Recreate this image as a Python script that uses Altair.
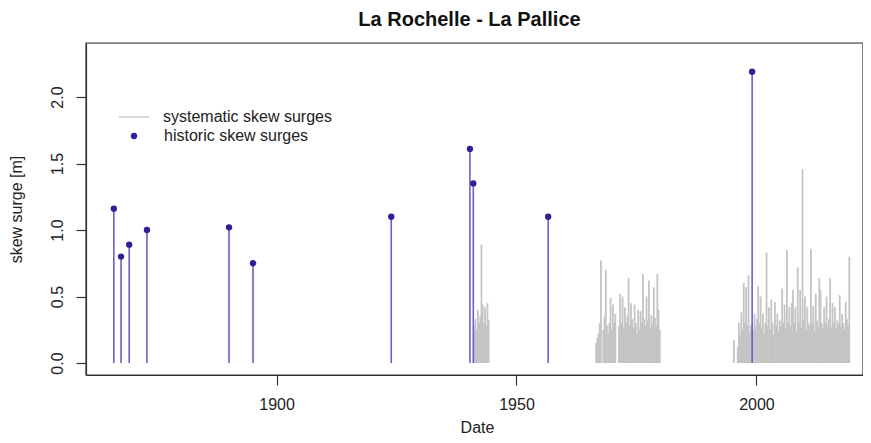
import altair as alt
import pandas as pd

FONT = "Liberation Sans"

# Historic skew surges (year, value in m)
hist_years = [1866.1, 1867.6, 1869.3, 1873.0, 1890.1, 1895.1, 1923.9, 1940.3, 1941.0, 1956.6, 1999.1]
hist_values = [1.16, 0.80, 0.89, 1.00, 1.02, 0.75, 1.10, 1.61, 1.35, 1.10, 2.19]

# Systematic skew surges: three observation periods, sampled every quarter year
seg1_start, seg1_step = 1941.2, 0.25
seg1_values = [0.28, 0.33, 0.25, 0.40, 0.30, 0.35, 0.89, 0.44, 0.30, 0.42, 0.28, 0.45, 0.32]

seg2_start, seg2_step = 1966.6, 0.25
seg2_values = [0.15, 0.19, 0.22, 0.30, 0.77, 0.00, 0.25, 0.35, 0.70, 0.28,
               0.22, 0.30, 0.49, 0.25, 0.44, 0.30, 0.37, 0.00, 0.00, 0.28,
               0.52, 0.30, 0.50, 0.26, 0.42, 0.30, 0.35, 0.64, 0.28, 0.45,
               0.33, 0.27, 0.44, 0.30, 0.22, 0.40, 0.25, 0.39, 0.30, 0.67,
               0.33, 0.28, 0.50, 0.32, 0.62, 0.26, 0.36, 0.30, 0.57, 0.34,
               0.28, 0.67, 0.40, 0.25]

seg3_start, seg3_step = 1996.1, 0.25
seg3_values = [0.12, 0.30, 0.20, 0.38, 0.25, 0.60, 0.30, 0.57, 0.28, 0.66,
               0.22, 0.28, 0.30, 0.25, 0.37, 0.27, 0.33, 0.58, 0.30, 0.50,
               0.26, 0.37, 0.22, 0.30, 0.83, 0.28, 0.42, 0.25, 0.48, 0.30,
               0.21, 0.46, 0.28, 0.37, 0.24, 0.32, 0.27, 0.56, 0.30, 0.44,
               0.26, 0.85, 0.30, 0.42, 0.28, 0.45, 0.55, 0.30, 0.42, 0.24,
               0.72, 0.30, 0.55, 0.27, 1.46, 0.33, 0.50, 0.25, 0.42, 0.30,
               0.28, 0.86, 0.30, 0.43, 0.24, 0.52, 0.32, 0.27, 0.64, 0.55,
               0.30, 0.26, 0.42, 0.30, 0.50, 0.28, 0.33, 0.64, 0.27, 0.45,
               0.30, 0.42, 0.26, 0.32, 0.29, 0.51, 0.27, 0.37, 0.30, 0.25,
               0.46, 0.33, 0.28, 0.80]

extra_years = [1995.3]
extra_values = [0.17]

x_ticks = [1900, 1950, 2000]
y_ticks = [0.0, 0.5, 1.0, 1.5, 2.0]

SYS_LABEL = "systematic skew surges"
HIST_LABEL = "historic skew surges"

rows = []
for start, step, vals in [(seg1_start, seg1_step, seg1_values),
                          (seg2_start, seg2_step, seg2_values),
                          (seg3_start, seg3_step, seg3_values)]:
    for i, v in enumerate(vals):
        rows.append({"year": start + i * step, "value": v, "series": SYS_LABEL})
for yv, v in zip(extra_years, extra_values):
    rows.append({"year": yv, "value": v, "series": SYS_LABEL})
sys_df = pd.DataFrame(rows)
sys_df["zero"] = 0.0

hist_df = pd.DataFrame({"year": hist_years, "value": hist_values})
hist_df["zero"] = 0.0
hist_df["series"] = HIST_LABEL

W, H = 777, 332

x_scale = alt.Scale(domain=[1860.3, 2022.2], nice=False, zero=False)
y_scale = alt.Scale(domain=[-0.09, 2.406], nice=False, zero=False)

x_axis = alt.Axis(values=x_ticks, format="d", title="Date", grid=False,
                  tickSize=10, labelPadding=11, labelFontSize=16, labelFont=FONT,
                  titleFontSize=16, titleFont=FONT, titleFontWeight="normal",
                  titleX=391, titleY=52, titleBaseline="middle", titleAlign="center",
                  labelColor="#222", titleColor="#222", domain=True,
                  domainColor="#333", domainWidth=1.2,
                  tickColor="#333", tickWidth=1.2)
y_axis = alt.Axis(values=y_ticks, format=".1f", title="skew surge [m]", grid=False,
                  tickSize=10, labelPadding=14, labelFontSize=16, labelFont=FONT,
                  labelAngle=270, labelAlign="center", labelBaseline="alphabetic",
                  titleFontSize=16, titleFont=FONT, titleFontWeight="normal",
                  titleAngle=270, titleX=-70, titleY=166, titleBaseline="middle",
                  titleAlign="center", labelColor="#222", titleColor="#222",
                  domain=True, domainColor="#333", domainWidth=1.2,
                  tickColor="#333", tickWidth=1.2)

sys_layer = alt.Chart(sys_df).mark_rule(strokeWidth=1.8, strokeCap="butt").encode(
    x=alt.X("year:Q", scale=x_scale, axis=x_axis),
    y=alt.Y("zero:Q", scale=y_scale, axis=y_axis),
    y2="value:Q",
    stroke=alt.Stroke("series:N",
                      scale=alt.Scale(domain=[SYS_LABEL], range=["#c4c4c4"]),
                      legend=alt.Legend(title=None, orient="none", legendX=32, legendY=58,
                                        symbolType="stroke", symbolSize=900,
                                        symbolStrokeWidth=1.3, labelFontSize=16,
                                        labelFont=FONT, labelColor="#222",
                                        labelOffset=13, padding=0, labelLimit=400)),
)

hist_stem = alt.Chart(hist_df).mark_rule(strokeWidth=1.6, color="#6a5fcc").encode(
    x=alt.X("year:Q", scale=x_scale),
    y=alt.Y("zero:Q", scale=y_scale),
    y2="value:Q",
)

hist_pts = alt.Chart(hist_df).mark_circle(size=40, opacity=1).encode(
    x=alt.X("year:Q", scale=x_scale),
    y=alt.Y("value:Q", scale=y_scale),
    fill=alt.Fill("series:N",
                  scale=alt.Scale(domain=[HIST_LABEL], range=["#2e1f96"]),
                  legend=alt.Legend(title=None, orient="none", legendX=40, legendY=85,
                                    symbolType="circle", symbolSize=40,
                                    symbolStrokeWidth=0, symbolOpacity=1,
                                    labelFontSize=16, labelFont=FONT, labelColor="#222",
                                    labelOffset=22, padding=0, labelLimit=400)),
)

# plot frame (box around the panel)
frame = alt.Chart(pd.DataFrame({"f": [0]})).mark_rect(
    fillOpacity=0, stroke="#333", strokeWidth=1.2
).encode(x=alt.value(0), x2=alt.value(W), y=alt.value(0), y2=alt.value(H))

chart = alt.layer(sys_layer, hist_stem, hist_pts, frame).resolve_legend(
    stroke="independent", fill="independent"
).properties(
    width=W, height=H,
    autosize=alt.AutoSizeParams(type="none"),
    padding={"left": 78, "top": 35, "right": 0, "bottom": 60},
    title=alt.TitleParams("La Rochelle - La Pallice", fontSize=20, font=FONT,
                          fontWeight="bold", anchor="middle", offset=12, dx=-5,
                          color="#111"),
).configure_view(stroke=None).configure(background="white")

chart.save("out.html", embed_options={"renderer": "svg", "actions": False})
